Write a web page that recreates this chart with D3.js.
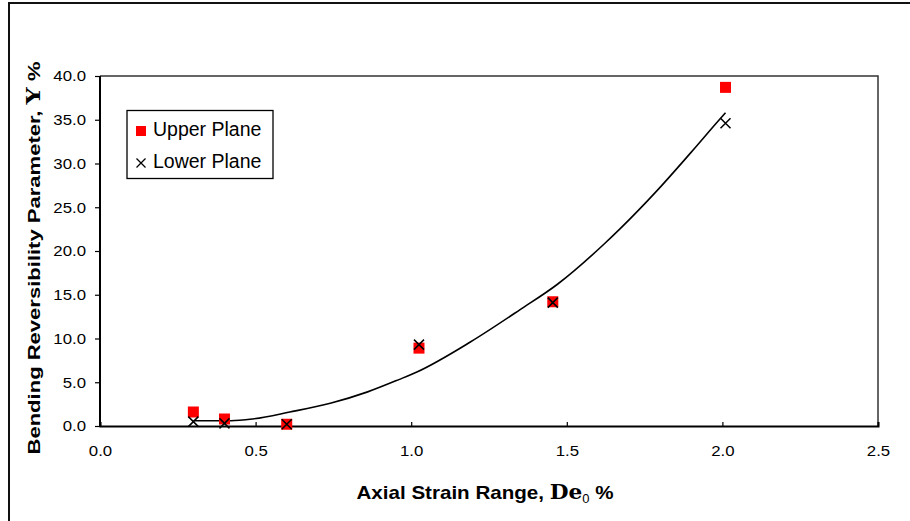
<!DOCTYPE html>
<html>
<head>
<meta charset="utf-8">
<script src="https://cdn.jsdelivr.net/npm/d3@7"></script>
<style>
  body { margin: 0; background: #fff; }
  svg { display: block; font-family: 'Liberation Sans', Arial, sans-serif; }
</style>
</head>
<body>
<div id="viz"></div>
<script>
// measured points (strain range %, reversibility %)
const strainRange = [0.30, 0.40, 0.60, 1.025, 1.455, 2.01];
const upperPlane = [1.6, 0.8, 0.2, 8.9, 14.2, 38.7];
const lowerPlane = [0.5, 0.3, 0.2, 9.3, 14.1, 34.6];

// trend line
const trendX = [0.30, 0.42, 0.49, 0.61, 0.74, 0.86, 0.96, 1.02, 1.19, 1.35, 1.47, 1.62, 1.67, 1.79, 1.90, 1.99, 2.01];
const trendY = [0.6, 0.6, 0.8, 1.6, 2.6, 3.9, 5.3, 6.2, 9.6, 13.3, 16.2, 20.8, 22.5, 26.9, 31.3, 35.0, 35.8];

const xTicks = [0, 0.5, 1.0, 1.5, 2.0, 2.5];
const yTicks = [0, 5, 10, 15, 20, 25, 30, 35, 40];
const seriesNames = ['Upper Plane', 'Lower Plane'];

(() => {
  let margin = { top: 76, right: 32, bottom: 95, left: 100 },
    width = 910 - margin.left - margin.right,
    height = 521 - margin.top - margin.bottom;

  let root = d3.select('#viz')
    .append('svg')
    .attr('width', 910)
    .attr('height', 521);

  // outer chart border (runs off right / bottom)
  root.append('rect')
    .attr('x', 9)
    .attr('y', 3)
    .attr('width', 940)
    .attr('height', 560)
    .attr('fill', 'none')
    .attr('stroke', '#111')
    .attr('stroke-width', 2);

  let svg = root.append('g')
    .attr('transform', `translate(${margin.left}, ${margin.top})`);

  let x = d3.scaleLinear()
    .domain([0, 2.5])
    .range([0, width]);

  let y = d3.scaleLinear()
    .domain([0, 40])
    .range([height, 0]);

  // stretch text a little wider, the original glyphs are broad
  function stretch(sel, k) {
    sel.attr('textLength', function () { return this.getComputedTextLength() * k; })
      .attr('lengthAdjust', 'spacingAndGlyphs');
  }

  // frame top / right
  svg.append('path')
    .attr('d', `M0,0H${width}V${height}`)
    .attr('fill', 'none')
    .attr('stroke', '#333')
    .attr('stroke-width', 1.5);

  let yAxis = svg.append('g')
    .call(d3.axisLeft(y)
      .tickValues(yTicks)
      .tickSize(5)
      .tickPadding(9)
      .tickFormat(d3.format('.1f')));

  let xAxis = svg.append('g')
    .attr('transform', `translate(0,${height})`)
    .call(d3.axisBottom(x)
      .tickValues(xTicks)
      .tickSize(-4)
      .tickPadding(19)
      .tickFormat(d3.format('.1f')));

  [xAxis, yAxis].forEach(ax => {
    ax.select('.domain')
      .attr('stroke', '#000')
      .attr('stroke-width', 2);
    ax.selectAll('.tick line')
      .attr('stroke', '#000')
      .attr('stroke-width', 1.2);
    ax.selectAll('text')
      .attr('fill', '#000')
      .style('font-size', '15px')
      .style('font-family', "'Liberation Sans', Arial, sans-serif");
  });
  yAxis.select('.domain').attr('d', `M0,0V${height}`);
  stretch(xAxis.selectAll('text'), 1.12);
  stretch(yAxis.selectAll('text'), 1.12);

  // trend line
  let line = d3.line()
    .x((d, i) => x(trendX[i]))
    .y(d => y(d))
    .curve(d3.curveMonotoneX);

  svg.append('path')
    .datum(trendY)
    .attr('d', line)
    .attr('fill', 'none')
    .attr('stroke', '#000')
    .attr('stroke-width', 1.6);

  // upper plane squares
  svg.selectAll('.upper')
    .data(upperPlane)
    .join('rect')
    .attr('class', 'upper')
    .attr('x', (d, i) => x(strainRange[i]) - 5.5)
    .attr('y', d => y(d) - 5.5)
    .attr('width', 11)
    .attr('height', 11)
    .attr('fill', '#ff0000');

  // lower plane crosses
  let cross = s => `M${-s},${-s}L${s},${s}M${-s},${s}L${s},${-s}`;

  svg.selectAll('.lower')
    .data(lowerPlane)
    .join('path')
    .attr('class', 'lower')
    .attr('transform', (d, i) => `translate(${x(strainRange[i])},${y(d)})`)
    .attr('d', cross(5))
    .attr('stroke', '#000')
    .attr('stroke-width', 1.5);

  // legend
  let legend = root.append('g');

  legend.append('rect')
    .attr('x', 127)
    .attr('y', 110.5)
    .attr('width', 146)
    .attr('height', 68)
    .attr('fill', '#fff')
    .attr('stroke', '#000')
    .attr('stroke-width', 1.3);

  legend.append('rect')
    .attr('x', 136)
    .attr('y', 126)
    .attr('width', 10)
    .attr('height', 10)
    .attr('fill', '#ff0000');

  legend.append('path')
    .attr('transform', 'translate(141,163)')
    .attr('d', cross(4.5))
    .attr('stroke', '#000')
    .attr('stroke-width', 1.3);

  legend.selectAll('.legend-label')
    .data(seriesNames)
    .join('text')
    .attr('class', 'legend-label')
    .attr('x', 153)
    .attr('y', (d, i) => 136 + i * 32)
    .style('font-size', '19.5px')
    .text(d => d);

  // axis titles
  let xTitle = root.append('text')
    .attr('x', 485)
    .attr('y', 499)
    .attr('text-anchor', 'middle')
    .style('font-size', '19px')
    .style('font-weight', 'bold');
  xTitle.append('tspan').text('Axial Strain Range, ');
  xTitle.append('tspan')
    .style('font-family', "'DejaVu Serif', 'Liberation Serif', serif")
    .style('font-size', '20px')
    .text('De');
  xTitle.append('tspan')
    .attr('dy', 4)
    .style('font-size', '12px')
    .style('font-weight', 'normal')
    .text('0');
  xTitle.append('tspan')
    .attr('dy', -4)
    .text(' %');
  xTitle.attr('textLength', 257).attr('lengthAdjust', 'spacingAndGlyphs');

  let yTitle = root.append('text')
    .attr('transform', 'translate(40,258) rotate(-90)')
    .attr('text-anchor', 'middle')
    .style('font-size', '16.5px')
    .style('font-weight', 'bold');
  yTitle.append('tspan').text('Bending Reversibility Parameter, ');
  yTitle.append('tspan')
    .style('font-family', "'DejaVu Serif', 'Liberation Serif', serif")
    .style('font-size', '18px')
    .text('Y');
  yTitle.append('tspan').text(' %');
  yTitle.attr('textLength', 393).attr('lengthAdjust', 'spacingAndGlyphs');
})();
</script>
</body>
</html>
